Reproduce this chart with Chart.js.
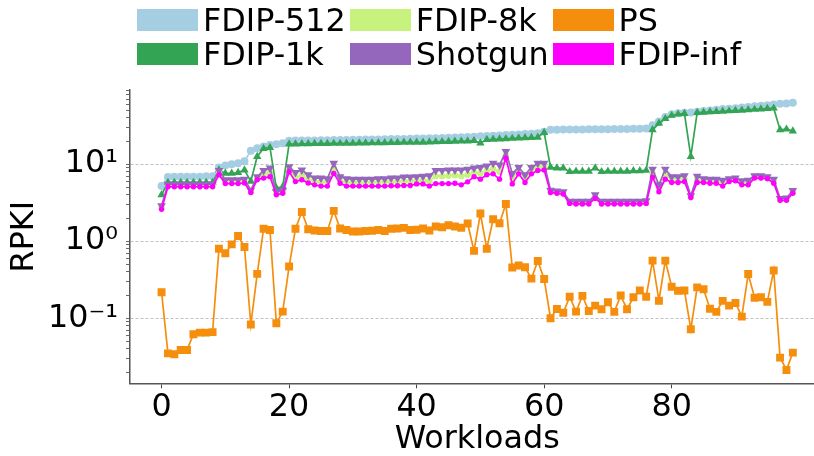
<!DOCTYPE html>
<html>
<head>
<meta charset="utf-8">
<title>RPKI per workload</title>
<script src="https://cdn.jsdelivr.net/npm/chart.js@4.4.1/dist/chart.umd.min.js"></script>
<style>
    html, body { margin: 0; padding: 0; background: #fff; overflow: hidden; }
    .chart-wrap { position: relative; width: 830px; height: 456px; }
    .legend {
        position: absolute; left: 137px; top: 9px;
        display: grid; grid-template-rows: auto auto; grid-auto-flow: column;
        column-gap: 4px; row-gap: 12px;
        font-family: "DejaVu Sans"; font-size: 31.8px; color: #000;
    }
    .legend-item { display: flex; align-items: center; height: 22px; line-height: 22px; white-space: nowrap; }
    .legend-box { width: 61px; height: 22px; margin-right: 5px; flex: none; }
</style>
</head>
<body>
<div class="chart-wrap">
    <canvas id="rpki-chart"></canvas>
    <div class="legend" id="rpki-legend"></div>
</div>
<script>
// workload index on the x axis
const workloads = Array.from({ length: 100 }, (_, i) => i);
const xTickValues = [0, 20, 40, 60, 80];
const yTickLabels = { 0.1: "10\u207B\u00B9", 1: "10\u2070", 10: "10\u00B9" };

const fdip512 = [
    5.2, 6.8, 6.9, 6.9, 6.9, 6.9, 6.9, 7.0, 7.0, 9.1,
    9.6, 10.0, 10.3, 10.9, 15.0, 16.1, 17.0, 17.8, 18.2, 18.7,
    20.2, 20.3, 20.3, 20.4, 20.4, 20.5, 20.5, 20.6, 20.6, 20.7,
    20.8, 20.8, 20.9, 21.0, 21.0, 21.1, 21.2, 21.2, 21.3, 21.4,
    21.5, 21.6, 21.7, 21.8, 21.9, 22.0, 22.2, 22.4, 22.6, 22.8,
    23.0, 23.2, 23.4, 23.6, 23.9, 24.1, 24.3, 24.6, 24.9, 25.2,
    26.5, 28.0, 28.1, 28.2, 28.2, 28.3, 28.3, 28.4, 28.4, 28.5,
    28.5, 28.6, 28.6, 28.7, 28.8, 28.9, 29.0, 32.0, 36.0, 41.0,
    44.5, 46.0, 46.5, 47.0, 48.0, 49.0, 50.0, 51.0, 52.0, 52.5,
    53.5, 54.5, 55.5, 56.5, 57.5, 58.5, 59.5, 61.0, 61.5, 63.0,
];
const fdip1k = [
    4.0, 5.8, 5.8, 5.8, 5.8, 5.8, 5.8, 5.8, 5.8, 8.4,
    7.6, 7.6, 7.8, 8.4, 6.0, 12.6, 16.0, 16.5, 4.9, 5.1,
    18.3, 18.3, 18.4, 18.4, 18.5, 18.5, 18.5, 18.6, 18.6, 18.7,
    18.7, 18.8, 18.8, 18.9, 19.0, 19.0, 19.1, 19.1, 19.2, 19.2,
    19.2, 19.3, 19.4, 19.5, 19.6, 19.7, 19.8, 19.9, 20.0, 20.2,
    18.8, 20.9, 21.0, 21.2, 21.4, 21.6, 21.8, 22.0, 22.2, 22.4,
    25.8, 9.1, 8.9, 8.9, 8.0, 8.1, 8.1, 8.1, 8.9, 8.0,
    8.1, 8.1, 8.1, 8.1, 8.2, 8.2, 8.3, 27.9, 34.0, 39.0,
    43.0, 44.6, 45.5, 12.6, 46.9, 47.3, 47.8, 48.2, 48.7, 49.2,
    49.7, 50.2, 50.8, 51.4, 52.0, 52.7, 53.4, 27.9, 28.5, 27.0,
];
const fdip8k = [
    2.75, 5.3, 5.3, 5.3, 5.3, 5.3, 5.3, 5.3, 5.3, 7.8,
    6.0, 6.0, 6.0, 6.0, 4.4, 6.6, 7.4, 7.8, 4.2, 4.4,
    8.6, 6.7, 7.2, 6.4, 6.0, 5.9, 5.9, 8.8, 6.2, 5.8,
    5.8, 5.8, 5.8, 5.8, 5.9, 5.9, 5.9, 6.0, 6.0, 6.0,
    6.1, 6.2, 6.0, 7.0, 7.0, 7.1, 7.2, 7.0, 7.3, 7.8,
    7.6, 8.3, 8.7, 8.0, 13.0, 6.5, 8.2, 6.5, 8.2, 9.2,
    9.3, 4.4, 4.3, 4.2, 3.2, 3.15, 3.15, 3.15, 3.8, 3.15,
    3.15, 3.15, 3.15, 3.15, 3.15, 3.15, 3.2, 7.6, 4.9, 7.4,
    6.3, 6.3, 6.5, 3.8, 6.4, 6.1, 6.0, 6.0, 5.7, 6.2,
    6.3, 5.8, 5.8, 6.8, 6.8, 6.7, 6.0, 3.5, 3.5, 4.35,
];
const shotgun = [
    2.88, 5.5, 5.5, 5.5, 5.5, 5.5, 5.5, 5.5, 5.5, 8.3,
    6.3, 6.3, 6.3, 6.4, 4.6, 6.9, 8.3, 8.9, 4.4, 4.6,
    9.3, 7.8, 8.4, 7.3, 6.6, 6.6, 6.5, 10.3, 6.9, 6.5,
    6.4, 6.4, 6.4, 6.4, 6.5, 6.5, 6.6, 6.6, 6.8, 6.8,
    6.9, 7.0, 7.1, 8.3, 8.3, 8.4, 8.4, 8.4, 8.6, 8.9,
    9.1, 9.5, 10.3, 9.8, 14.6, 7.6, 9.1, 7.3, 9.1, 10.3,
    10.3, 4.6, 4.5, 4.4, 3.3, 3.3, 3.3, 3.3, 4.0, 3.3,
    3.3, 3.3, 3.3, 3.3, 3.3, 3.3, 3.35, 8.6, 5.4, 8.6,
    6.9, 6.9, 7.1, 3.9, 7.0, 6.5, 6.4, 6.4, 6.2, 6.5,
    6.6, 6.1, 6.2, 7.1, 7.1, 6.9, 6.4, 3.6, 3.65, 4.55,
];
const ps = [
    0.218, 0.035, 0.034, 0.0388, 0.0388, 0.062, 0.065, 0.065, 0.066, 0.80,
    0.70, 0.91, 1.17, 0.84, 0.083, 0.377, 1.45, 1.40, 0.086, 0.122,
    0.469, 1.45, 2.40, 1.43, 1.38, 1.36, 1.36, 2.48, 1.46, 1.40,
    1.34, 1.34, 1.36, 1.37, 1.40, 1.36, 1.45, 1.46, 1.49, 1.40,
    1.41, 1.46, 1.38, 1.55, 1.52, 1.61, 1.55, 1.50, 1.70, 0.75,
    2.29, 0.80, 1.93, 1.71, 3.05, 0.455, 0.483, 0.46, 0.327, 0.555,
    0.324, 0.100, 0.132, 0.118, 0.19, 0.122, 0.195, 0.124, 0.146, 0.131,
    0.161, 0.121, 0.197, 0.131, 0.187, 0.229, 0.19, 0.56, 0.169, 0.56,
    0.257, 0.227, 0.229, 0.072, 0.252, 0.238, 0.133, 0.121, 0.168, 0.146,
    0.158, 0.105, 0.376, 0.185, 0.187, 0.163, 0.416, 0.0308, 0.0213, 0.0358,
];
const fdipInf = [
    2.6, 5.1, 5.1, 5.1, 5.1, 5.1, 5.1, 5.1, 5.1, 7.3,
    5.6, 5.6, 5.6, 5.7, 4.3, 6.3, 6.6, 6.9, 4.0, 4.2,
    8.0, 5.95, 6.3, 5.7, 5.4, 5.2, 5.2, 7.6, 5.65, 5.2,
    5.2, 5.2, 5.2, 5.2, 5.2, 5.2, 5.25, 5.25, 5.3, 5.3,
    5.55, 5.55, 5.2, 5.6, 5.6, 5.6, 5.65, 5.4, 5.9, 6.9,
    6.4, 7.3, 7.5, 6.4, 12.0, 5.55, 7.5, 5.8, 7.5, 8.3,
    8.4, 4.3, 4.2, 4.1, 3.1, 3.05, 3.05, 3.05, 3.6, 3.05,
    3.05, 3.05, 3.05, 3.05, 3.05, 3.05, 3.1, 6.8, 4.4, 6.4,
    5.8, 5.8, 5.95, 3.7, 5.8, 5.8, 5.65, 5.65, 5.2, 5.95,
    6.1, 5.4, 5.4, 6.6, 6.6, 6.5, 5.65, 3.4, 3.4, 4.2,
];

(function () {
    "use strict";

    const FONT = "DejaVu Sans";
    const FONT_SIZE = 31.8;
    Chart.defaults.font.family = FONT;
    Chart.defaults.color = "#000";

    const isMajor = (v) => Math.abs(Math.log10(v) - Math.round(Math.log10(v))) < 1e-6;

    // log ticks 1..9 x decade, only the powers of ten get a label and a grid line
    const yTicks = [];
    [0.01, 0.1, 1, 10].forEach((d) => {
        for (let m = 1; m <= 9; m++) {
            const v = +(m * d).toPrecision(3);
            if (v >= 0.0143 && v <= 92) yTicks.push(v);
        }
    });

    const line = (label, values, color, pointStyle, radius, order, rotation) => ({
        label: label,
        data: values,
        borderColor: color,
        backgroundColor: color,
        borderWidth: 1.7,
        pointStyle: pointStyle,
        pointRadius: radius,
        pointHoverRadius: radius,
        pointRotation: rotation || 0,
        pointBackgroundColor: color,
        pointBorderColor: color,
        pointBorderWidth: 0,
        tension: 0,
        order: order,
    });

    const ctx = document.getElementById("rpki-chart").getContext("2d");
    const chart = new Chart(ctx, {
        type: "line",
        data: {
            labels: workloads,
            datasets: [
                line("FDIP-512", fdip512, "#a6cee3", "circle", 4.0, 6),
                line("FDIP-1k", fdip1k, "#33a454", "triangle", 4.8, 5),
                line("FDIP-8k", fdip8k, "#c6f27d", "circle", 3.2, 4),
                line("Shotgun", shotgun, "#9467bd", "triangle", 5.0, 3, 180),
                line("PS", ps, "#f58e0c", "rect", 5.6, 2),
                line("FDIP-inf", fdipInf, "#ff00ff", "circle", 2.7, 1),
            ],
        },
        options: {
            animation: false,
            responsive: true,
            maintainAspectRatio: false,
            devicePixelRatio: 1,
            layout: {
                padding: { top: 90, left: 0, right: 3.6, bottom: 0 },
            },
            plugins: {
                legend: { display: false },
                tooltip: { enabled: false },
            },
            scales: {
                x: {
                    type: "linear",
                    min: -4.95,
                    max: 103.95,
                    afterBuildTicks: (scale) => {
                        scale.ticks = xTickValues.map((v) => ({ value: v }));
                    },
                    afterFit: (scale) => {
                        scale.height = 72.7;
                    },
                    ticks: {
                        autoSkip: false,
                        maxRotation: 0,
                        padding: 0,
                        color: "#000",
                        font: { size: FONT_SIZE, lineHeight: 1.2 },
                    },
                    grid: {
                        drawOnChartArea: false,
                        color: "transparent",
                        tickColor: "#444",
                        tickLength: 5,
                    },
                    border: { color: "#555", width: 1.5 },
                    title: {
                        display: true,
                        text: "Workloads",
                        color: "#000",
                        font: { size: FONT_SIZE, lineHeight: 1.2 },
                        padding: { top: 0, bottom: -3 },
                    },
                },
                y: {
                    type: "logarithmic",
                    min: 0.0143,
                    max: 92,
                    afterBuildTicks: (scale) => {
                        scale.ticks = yTicks.map((v) => ({ value: v, major: isMajor(v) }));
                    },
                    afterFit: (scale) => {
                        scale.width = 130;
                    },
                    ticks: {
                        autoSkip: false,
                        padding: 8,
                        color: "#000",
                        font: { size: FONT_SIZE, lineHeight: 1.2 },
                        callback: (value) => (isMajor(value) ? yTickLabels[+value.toPrecision(3)] : ""),
                    },
                    grid: {
                        color: (c) => (c.tick && isMajor(c.tick.value) ? "#b0b0b0" : "transparent"),
                        lineWidth: 0.8,
                        tickColor: "#444",
                        tickLength: 4,
                        tickBorderDash: [],
                    },
                    border: { color: "#555", width: 1.5, dash: [3, 2] },
                    title: {
                        display: true,
                        text: "RPKI",
                        color: "#000",
                        font: { size: FONT_SIZE, lineHeight: 1.2 },
                        padding: { top: 6, bottom: 0 },
                    },
                },
            },
        },
    });

    // Legend (column-major, 3 columns like the original figure)
    const legend = document.getElementById("rpki-legend");
    chart.data.datasets.forEach((ds) => {
        const item = document.createElement("div");
        item.className = "legend-item";
        const box = document.createElement("span");
        box.className = "legend-box";
        box.style.background = ds.borderColor;
        const text = document.createElement("span");
        text.textContent = ds.label;
        item.appendChild(box);
        item.appendChild(text);
        legend.appendChild(item);
    });
})();
</script>
</body>
</html>
